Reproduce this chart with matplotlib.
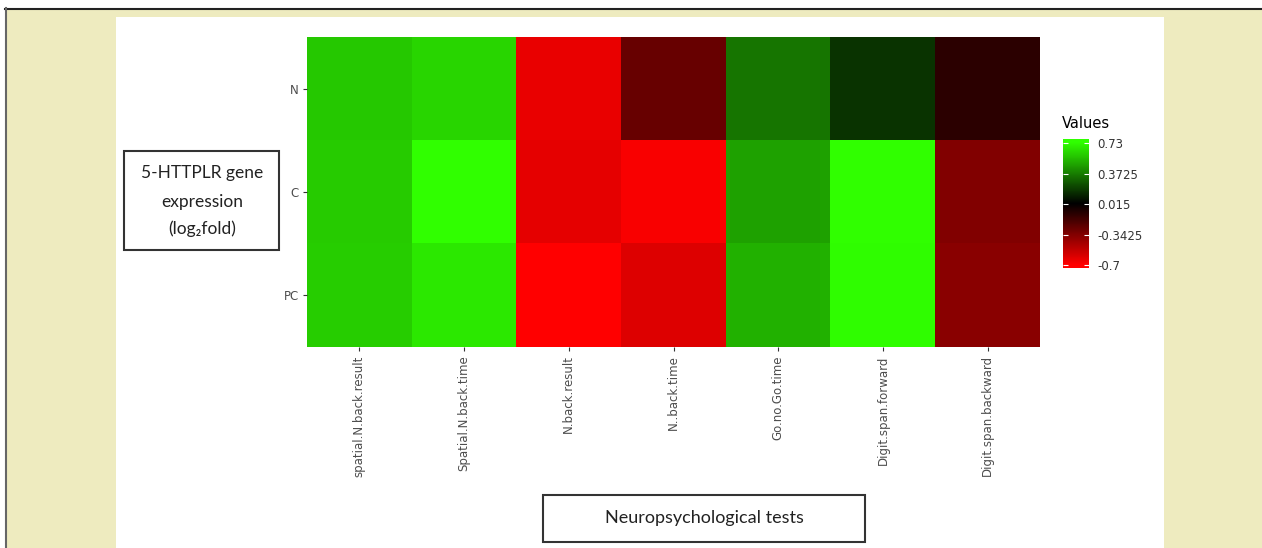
import numpy as np
import matplotlib
matplotlib.use("Agg")
import matplotlib.pyplot as plt
from matplotlib.colors import LinearSegmentedColormap
from matplotlib.patches import Rectangle
from matplotlib.lines import Line2D

tests = ['spatial.N.back.result', 'Spatial.N.back.time', 'N.back.result', 'N..back.time',
         'Go.no.Go.time', 'Digit.span.forward', 'Digit.span.backward']
groups = ['N', 'C', 'PC']
values_n = [0.576, 0.609, -0.636, -0.271, 0.343, 0.158, -0.103]
values_c = [0.58, 0.73, -0.627, -0.681, 0.464, 0.73, -0.344]
values_pc = [0.587, 0.666, -0.70, -0.605, 0.508, 0.72, -0.366]
legend_ticks = [-0.7, -0.3425, 0.015, 0.3725, 0.73]
legend_labels = ['-0.7', '-0.3425', '0.015', '0.3725', '0.73']

W, H = 1262, 548
cmap = LinearSegmentedColormap.from_list('rbg', [(0, '#ff0000'), (0.5, '#000000'), (1, '#30ff00')])


def fx(x):
    return x / W


def fy(y):
    return 1 - y / H


fig = plt.figure(figsize=(W / 100, H / 100), dpi=100)
fig.patch.set_facecolor('white')

# background frame (behind the axes)
fig.add_artist(Rectangle((fx(6), 0), 1 - fx(6), fy(9), transform=fig.transFigure,
                         facecolor='#eeebbf', edgecolor='none', zorder=-3))
fig.add_artist(Line2D([fx(5), 1], [fy(8.5), fy(8.5)], transform=fig.transFigure,
                      color='#222222', lw=1.5, zorder=-2))
fig.add_artist(Line2D([fx(5.5), fx(5.5)], [0, fy(8)], transform=fig.transFigure,
                      color='#666666', lw=1.5, zorder=-2))
fig.add_artist(Rectangle((fx(116), 0), fx(1164) - fx(116), fy(17), transform=fig.transFigure,
                         facecolor='white', edgecolor='none', zorder=-1))

# heatmap
data = np.array([values_n, values_c, values_pc])
ax = fig.add_axes([fx(307), fy(347), fx(1040) - fx(307), fy(37) - fy(347)])
ax.imshow(data, cmap=cmap, vmin=-0.7, vmax=0.73, aspect='auto', interpolation='nearest')
ax.set_xticks(range(len(tests)))
ax.set_xticklabels(tests, rotation=90, fontsize=8.5, color='#4d4d4d')
ax.set_yticks(range(len(groups)))
ax.set_yticklabels(groups, fontsize=8.5, color='#4d4d4d')
ax.tick_params(length=3, width=0.8, color='#333333', pad=3)
for s in ax.spines.values():
    s.set_visible(False)

# colour legend
cax = fig.add_axes([fx(1063), fy(268), fx(1089) - fx(1063), fy(139) - fy(268)])
grad = np.linspace(-0.735, 0.777, 256).reshape(-1, 1)
cax.imshow(grad, cmap=cmap, vmin=-0.7, vmax=0.73, aspect='auto', origin='lower',
           extent=[0, 1, -0.735, 0.777])
cax.set_xlim(0, 1)
cax.set_ylim(-0.735, 0.777)
cax.set_xticks([])
cax.yaxis.tick_right()
cax.set_yticks(legend_ticks)
cax.set_yticklabels(legend_labels, fontsize=8.5, color='#333333')
cax.tick_params(length=0, pad=6)
cax.hlines(legend_ticks, 0, 0.2, color='white', lw=0.8)
cax.hlines(legend_ticks, 0.8, 1, color='white', lw=0.8)
for s in cax.spines.values():
    s.set_visible(False)
fig.text(fx(1062), fy(123), 'Values', fontsize=10.5, ha='left', va='center', color='black')

# annotation boxes
fam = ['Lato', 'DejaVu Sans']
fig.add_artist(Rectangle((fx(124), fy(250)), fx(279) - fx(124), fy(151) - fy(250),
                         transform=fig.transFigure, facecolor='none', edgecolor='#333333', lw=1.5))
for txt, y in [('5-HTTPLR gene', 173), ('expression', 202), ('(log\u2082fold)', 229)]:
    fig.text(fx(202), fy(y), txt, fontsize=12.5, ha='center', va='center', family=fam, color='#222222')

fig.add_artist(Rectangle((fx(543), fy(542)), fx(865) - fx(543), fy(495) - fy(542),
                         transform=fig.transFigure, facecolor='none', edgecolor='#333333', lw=1.5))
fig.text(fx(704), fy(518), 'Neuropsychological tests', fontsize=13, ha='center', va='center',
         family=fam, color='#222222')

fig.savefig('out.png', dpi=100)
